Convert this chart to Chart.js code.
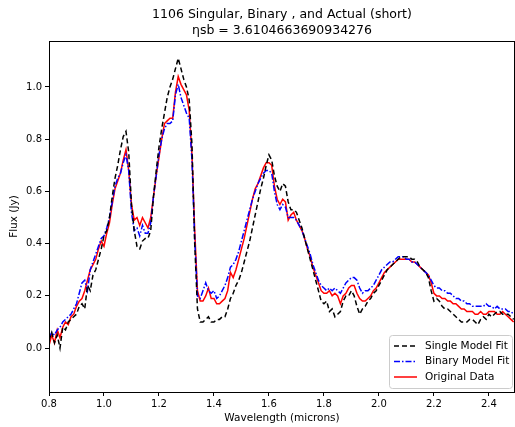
<!DOCTYPE html>
<html>
<head>
<meta charset="utf-8">
<script src="https://cdn.jsdelivr.net/npm/chart.js@4.4.1/dist/chart.umd.min.js"></script>
<style>
  html, body { margin: 0; padding: 0; background: #fff; }
  #wrap { width: 515px; height: 427px; position: relative; }
</style>
</head>
<body>
<div id="wrap"><canvas id="myChart"></canvas></div>
<script>
// wavelength grid (microns)
const wavelengths = [
    0.80, 0.81, 0.82, 0.83, 0.84, 0.85, 0.86, 0.87, 0.88, 0.89,
    0.90, 0.91, 0.92, 0.93, 0.94, 0.95, 0.96, 0.97, 0.98, 0.99,
    1.00, 1.01, 1.02, 1.03, 1.04, 1.05, 1.06, 1.07, 1.08, 1.09,
    1.10, 1.11, 1.12, 1.13, 1.14, 1.15, 1.16, 1.17, 1.18, 1.19,
    1.20, 1.21, 1.22, 1.23, 1.24, 1.25, 1.26, 1.27, 1.28, 1.29,
    1.30, 1.31, 1.32, 1.33, 1.34, 1.35, 1.36, 1.37, 1.38, 1.39,
    1.40, 1.41, 1.42, 1.43, 1.44, 1.45, 1.46, 1.47, 1.48, 1.49,
    1.50, 1.51, 1.52, 1.53, 1.54, 1.55, 1.56, 1.57, 1.58, 1.59,
    1.60, 1.61, 1.62, 1.63, 1.64, 1.65, 1.66, 1.67, 1.68, 1.69,
    1.70, 1.71, 1.72, 1.73, 1.74, 1.75, 1.76, 1.77, 1.78, 1.79,
    1.80, 1.81, 1.82, 1.83, 1.84, 1.85, 1.86, 1.87, 1.88, 1.89,
    1.90, 1.91, 1.92, 1.93, 1.94, 1.95, 1.96, 1.97, 1.98, 1.99,
    2.00, 2.01, 2.02, 2.03, 2.04, 2.05, 2.06, 2.07, 2.08, 2.09,
    2.10, 2.11, 2.12, 2.13, 2.14, 2.15, 2.16, 2.17, 2.18, 2.19,
    2.20, 2.21, 2.22, 2.23, 2.24, 2.25, 2.26, 2.27, 2.28, 2.29,
    2.30, 2.31, 2.32, 2.33, 2.34, 2.35, 2.36, 2.37, 2.38, 2.39,
    2.40, 2.41, 2.42, 2.43, 2.44, 2.45, 2.46, 2.47, 2.48, 2.49
];

// Single model fit (black dashed)
const singleFit = [
    0.03, 0.06, 0.02, 0.05, 0.00, 0.08, 0.07, 0.10, 0.11, 0.12,
    0.13, 0.16, 0.17, 0.15, 0.24, 0.22, 0.28, 0.30, 0.34, 0.38,
    0.43, 0.45, 0.50, 0.58, 0.65, 0.70, 0.76, 0.81, 0.83, 0.75,
    0.55, 0.45, 0.39, 0.38, 0.41, 0.42, 0.42, 0.45, 0.58, 0.68,
    0.77, 0.84, 0.90, 0.96, 1.00, 1.03, 1.07, 1.11, 1.07, 1.03,
    1.00, 0.95, 0.78, 0.40, 0.15, 0.10, 0.10, 0.11, 0.12, 0.10,
    0.10, 0.11, 0.11, 0.12, 0.12, 0.15, 0.19, 0.21, 0.24, 0.26,
    0.29, 0.33, 0.37, 0.41, 0.46, 0.51, 0.56, 0.61, 0.65, 0.70,
    0.74, 0.72, 0.66, 0.62, 0.60, 0.63, 0.62, 0.56, 0.53, 0.53,
    0.52, 0.49, 0.46, 0.42, 0.38, 0.34, 0.30, 0.26, 0.22, 0.18,
    0.17, 0.18, 0.14, 0.15, 0.12, 0.13, 0.14, 0.18, 0.20, 0.20,
    0.22, 0.20, 0.16, 0.13, 0.15, 0.16, 0.18, 0.19, 0.21, 0.22,
    0.24, 0.26, 0.28, 0.30, 0.31, 0.32, 0.33, 0.34, 0.35, 0.35,
    0.35, 0.35, 0.34, 0.34, 0.33, 0.31, 0.30, 0.29, 0.27, 0.22,
    0.18, 0.19, 0.18, 0.16, 0.15, 0.15, 0.14, 0.13, 0.12, 0.11,
    0.10, 0.10, 0.10, 0.11, 0.11, 0.10, 0.09, 0.11, 0.12, 0.11,
    0.13, 0.12, 0.13, 0.14, 0.14, 0.13, 0.13, 0.13, 0.12, 0.11
];

// Binary model fit (blue dash-dot)
const binaryFit = [
    0.04, 0.06, 0.05, 0.07, 0.08, 0.10, 0.11, 0.12, 0.13, 0.15,
    0.17, 0.21, 0.25, 0.26, 0.22, 0.30, 0.33, 0.36, 0.39, 0.42,
    0.43, 0.46, 0.50, 0.56, 0.62, 0.65, 0.67, 0.71, 0.74, 0.68,
    0.52, 0.45, 0.46, 0.43, 0.47, 0.44, 0.44, 0.48, 0.58, 0.66,
    0.74, 0.80, 0.84, 0.86, 0.86, 0.87, 0.97, 1.01, 0.96, 0.93,
    0.90, 0.88, 0.72, 0.42, 0.20, 0.19, 0.22, 0.25, 0.22, 0.21,
    0.22, 0.19, 0.20, 0.22, 0.24, 0.27, 0.31, 0.32, 0.34, 0.37,
    0.41, 0.45, 0.49, 0.53, 0.57, 0.60, 0.63, 0.65, 0.67, 0.68,
    0.68, 0.67, 0.60, 0.55, 0.53, 0.55, 0.54, 0.50, 0.50, 0.50,
    0.49, 0.47, 0.45, 0.42, 0.39, 0.36, 0.32, 0.29, 0.26, 0.24,
    0.23, 0.22, 0.23, 0.22, 0.23, 0.22, 0.21, 0.23, 0.25, 0.26,
    0.27, 0.27, 0.26, 0.23, 0.21, 0.22, 0.22, 0.23, 0.24, 0.26,
    0.28, 0.30, 0.31, 0.32, 0.33, 0.33, 0.34, 0.35, 0.35, 0.35,
    0.34, 0.34, 0.33, 0.33, 0.32, 0.31, 0.30, 0.29, 0.28, 0.26,
    0.24, 0.23, 0.23, 0.22, 0.22, 0.21, 0.21, 0.20, 0.19, 0.19,
    0.18, 0.18, 0.17, 0.17, 0.16, 0.16, 0.16, 0.16, 0.16, 0.17,
    0.16, 0.16, 0.15, 0.16, 0.15, 0.15, 0.15, 0.14, 0.14, 0.13
];

// Original data (red solid)
const originalData = [
    0.01, 0.05, 0.02, 0.07, 0.04, 0.08, 0.10, 0.09, 0.12, 0.13,
    0.16, 0.18, 0.19, 0.22, 0.26, 0.30, 0.32, 0.34, 0.38, 0.41,
    0.39, 0.44, 0.48, 0.55, 0.61, 0.64, 0.67, 0.72, 0.76, 0.68,
    0.55, 0.49, 0.50, 0.47, 0.50, 0.48, 0.46, 0.50, 0.58, 0.66,
    0.73, 0.80, 0.86, 0.87, 0.88, 0.88, 0.98, 1.04, 1.01, 0.99,
    0.97, 0.91, 0.74, 0.45, 0.22, 0.18, 0.18, 0.20, 0.23, 0.19,
    0.19, 0.17, 0.17, 0.18, 0.19, 0.22, 0.29, 0.27, 0.30, 0.34,
    0.38, 0.42, 0.47, 0.52, 0.57, 0.61, 0.63, 0.66, 0.69, 0.71,
    0.71, 0.70, 0.62, 0.57, 0.55, 0.57, 0.56, 0.49, 0.51, 0.52,
    0.49, 0.47, 0.45, 0.42, 0.38, 0.35, 0.31, 0.28, 0.25, 0.22,
    0.21, 0.21, 0.22, 0.20, 0.21, 0.20, 0.17, 0.20, 0.21, 0.23,
    0.24, 0.24, 0.21, 0.19, 0.18, 0.18, 0.19, 0.20, 0.22, 0.23,
    0.25, 0.27, 0.29, 0.30, 0.31, 0.32, 0.33, 0.34, 0.34, 0.34,
    0.34, 0.34, 0.33, 0.33, 0.32, 0.31, 0.30, 0.29, 0.28, 0.25,
    0.21, 0.20, 0.20, 0.19, 0.19, 0.18, 0.18, 0.17, 0.17, 0.16,
    0.15, 0.15, 0.14, 0.14, 0.14, 0.13, 0.13, 0.14, 0.13, 0.13,
    0.14, 0.14, 0.14, 0.13, 0.13, 0.14, 0.13, 0.12, 0.11, 0.10
];

const titleLines = ['1106 Singular, Binary , and Actual (short)', '\u03b7sb = 3.6104663690934276'];
const xLabel = 'Wavelength (microns)';
const yLabel = 'Flux (Jy)';

const FONT = '"DejaVu Sans", "Liberation Sans", sans-serif';

function toPoints(ys) {
    return ys.map((y, i) => ({ x: wavelengths[i], y: y }));
}

// title, axis labels, frame and matplotlib-like legend
const decorations = {
    id: 'decorations',
    afterDraw(chart) {
        const c = chart.ctx;
        const a = chart.chartArea;
        c.save();
        // frame
        c.strokeStyle = '#000';
        c.lineWidth = 1;
        c.strokeRect(a.left + 0.5, a.top + 0.5, a.right - a.left - 1, a.bottom - a.top);

        // title
        c.fillStyle = '#000';
        c.textAlign = 'center';
        c.textBaseline = 'middle';
        c.font = '12.5px ' + FONT;
        const cx = (a.left + a.right) / 2;
        c.fillText(titleLines[0], cx, 15);
        c.fillText(titleLines[1], cx, 31);

        // axis labels
        c.font = '10.5px ' + FONT;
        c.fillText(xLabel, cx, 418);
        c.save();
        c.translate(14, (a.top + a.bottom) / 2);
        c.rotate(-Math.PI / 2);
        c.fillText(yLabel, 0, 0);
        c.restore();

        // legend
        const lx = 389, ly = 335, lw = 123, lh = 53;
        c.fillStyle = 'rgba(255,255,255,0.8)';
        c.strokeStyle = '#ccc';
        c.beginPath();
        c.roundRect(lx + 0.5, ly + 0.5, lw, lh, 3);
        c.fill();
        c.stroke();
        c.font = '10.5px ' + FONT;
        c.textAlign = 'left';
        chart.data.datasets.forEach((ds, i) => {
            const yy = ly + 11 + i * 15.5;
            c.strokeStyle = ds.borderColor;
            c.lineWidth = ds.borderWidth;
            c.setLineDash(ds.borderDash || []);
            c.beginPath();
            c.moveTo(lx + 5, yy);
            c.lineTo(lx + 28, yy);
            c.stroke();
            c.setLineDash([]);
            c.fillStyle = '#000';
            c.fillText(ds.label, lx + 36, yy);
        });
        c.restore();
    }
};

const ctx = document.getElementById('myChart').getContext('2d');
const myChart = new Chart(ctx, {
    type: 'line',
    data: {
        datasets: [
            {
                label: 'Single Model Fit',
                data: toPoints(singleFit),
                borderColor: '#000000',
                borderDash: [5, 3],
                borderWidth: 1.5
            },
            {
                label: 'Binary Model Fit',
                data: toPoints(binaryFit),
                borderColor: '#0000ff',
                borderDash: [6, 2, 1.5, 2],
                borderWidth: 1.5
            },
            {
                label: 'Original Data',
                data: toPoints(originalData),
                borderColor: '#ff0000',
                borderWidth: 1.5
            }
        ]
    },
    options: {
        responsive: true,
        maintainAspectRatio: false,
        animation: false,
        layout: { padding: { top: 41, right: 0, left: 0, bottom: 0 } },
        elements: { point: { radius: 0 }, line: { tension: 0 } },
        plugins: {
            legend: { display: false },
            title: { display: false },
            tooltip: { enabled: false }
        },
        scales: {
            x: {
                type: 'linear',
                min: 0.8,
                max: 2.495,
                afterFit(scale) { scale.height = 35; },
                border: { display: true, color: '#000' },
                grid: { display: true, drawOnChartArea: false, drawTicks: true, tickLength: 4, color: '#000' },
                ticks: {
                    stepSize: 0.2,
                    includeBounds: false,
                    maxRotation: 0,
                    padding: 2,
                    color: '#000',
                    font: { family: FONT, size: 10 },
                    callback: v => v.toFixed(1)
                }
            },
            y: {
                min: -0.168,
                max: 1.176,
                afterFit(scale) { scale.width = 49; },
                border: { display: true, color: '#000' },
                grid: { display: true, drawOnChartArea: false, drawTicks: true, tickLength: 4, color: '#000' },
                ticks: {
                    stepSize: 0.2,
                    includeBounds: false,
                    padding: 3,
                    color: '#000',
                    font: { family: FONT, size: 10 },
                    callback: v => v.toFixed(1)
                }
            }
        }
    },
    plugins: [decorations]
});
</script>
</body>
</html>
